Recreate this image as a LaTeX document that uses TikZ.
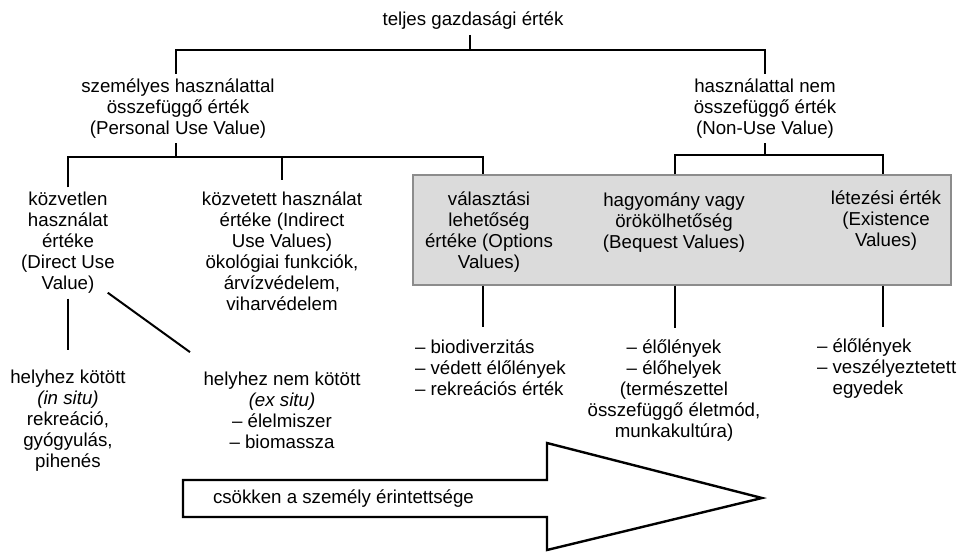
\documentclass[tikz,border=0pt]{standalone}
\usepackage{fontspec}
\setmainfont{Liberation Sans}
\begin{document}
\begin{tikzpicture}[x=1pt,y=-1pt,line width=2.4pt,line join=miter,
	txt/.style={align=center,inner sep=0pt,outer sep=5pt,font=\fontsize{18.7}{21}\selectfont},
	lst/.style={txt,align=left,outer sep=0pt},
	greybox/.style={draw=black!45,line width=1.2pt,fill=black!14,inner sep=0pt},
	stem/.style={shorten >=13pt}]
	\useasboundingbox (0,0) rectangle (958,552);
	%% Khai bao diem
	\path
	(470,50) coordinate (J0)
	(176,157) coordinate (J1)
	(765,155) coordinate (J2)
	(483,0) coordinate (xO)
	(675,0) coordinate (xB)
	(883,0) coordinate (xE)
	;
	
	%% cac nut
	\node[txt] (tev) at (473,21) {teljes gazdasági érték};
	\node[txt] (puv) at (178,108.5) {személyes használattal\\összefüggő érték\\(Personal Use Value)};
	\node[txt] (nuv) at (765,108.5) {használattal nem\\összefüggő érték\\(Non-Use Value)};
	\node[txt] (duv) at (68,243) {közvetlen\\használat\\értéke\\(Direct Use\\Value)};
	\node[txt,outer sep=12pt] (iuv) at (282,251) {közvetett használat\\értéke (Indirect\\Use Values)\\ökológiai funkciók,\\árvízvédelem,\\viharvédelem};
	\node[greybox,minimum width=538pt,minimum height=110pt] (gbox) at (682,230) {};
	\node[txt] (opt) at (489,232.5) {választási\\lehetőség\\értéke (Options\\Values)};
	\node[txt] (beq) at (674,222.5) {hagyomány vagy\\örökölhetőség\\(Bequest Values)};
	\node[txt] (exi) at (886,221) {létezési érték\\(Existence\\Values)};
	\node[txt,outer sep=20pt] (insitu) at (68,421) {helyhez kötött\\\textit{(in situ)}\\rekreáció,\\gyógyulás,\\pihenés};
	\node[txt,outer sep=20pt] (exsitu) at (282,410.5) {helyhez nem kötött\\\textit{(ex situ)}\\– élelmiszer\\– biomassza};
	\node[lst,anchor=west] (optx) at (415,368) {– biodiverzitás\\– védett élőlények\\– rekreációs érték};
	\node[txt,outer sep=0pt] (beqx) at (674,390.5) {– élőlények\\– élőhelyek\\(természettel\\összefüggő életmód,\\munkakultúra)};
	\node[lst,anchor=west] (exix) at (817,369) {– élőlények\\– veszélyeztetett\\\hphantom{–\ }egyedek};
	
	%% cac duong noi
	\draw (tev.south -| J0) -- (J0);
	\draw (puv.north -| J1) |- (J0) -| (nuv.north);
	\draw (puv.south -| J1) -- (J1);
	\draw (duv.north) |- (J1) -| (gbox.north -| xO);
	\draw (J1 -| iuv.north) -- (iuv.north);
	\draw (nuv.south) -- (J2);
	\draw (gbox.north -| xB) |- (J2) -| (gbox.north -| xE);
	\draw[stem] (gbox.south -| xO) -- (optx.north -| xO);
	\draw[stem,shorten >=12pt] (gbox.south -| xB) -- (beqx.north -| xB);
	\draw[stem,shorten >=12pt] (gbox.south -| xE) -- (exix.north -| xE);
	\draw[line width=2pt] (duv.south) -- (insitu.north);
	\draw[line width=2pt] ([shift={(-12pt,6pt)}]duv.south east) -- ([xshift=-92pt]exsitu.north);
	
	%% mui ten
	\draw (183,480) -- (547,480) -- (547,443) -- (762,498) -- (547,550) -- (547,517) -- (183,517) -- cycle;
	\node[txt,outer sep=0pt,anchor=west] (arrtxt) at (213,499) {csökken a személy érintettsége};
\end{tikzpicture}
\end{document}
